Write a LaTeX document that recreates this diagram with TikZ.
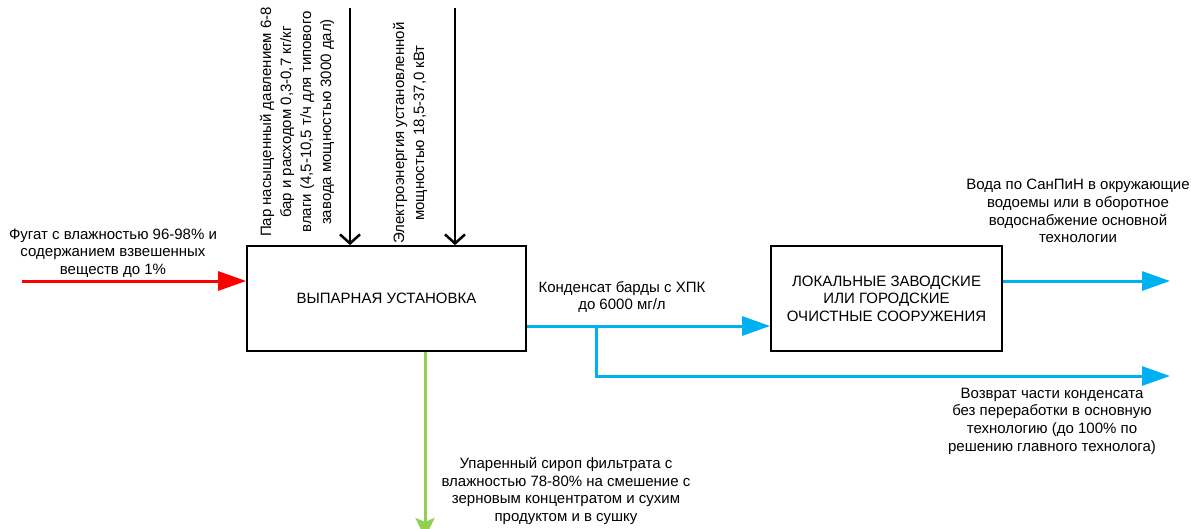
\documentclass[tikz,border=0pt]{standalone}
\usepackage{fontspec}
\setmainfont{Liberation Sans}
\usetikzlibrary{arrows.meta}
\definecolor{flowred}{RGB}{255,0,0}
\definecolor{flowblue}{RGB}{0,176,240}
\definecolor{flowgreen}{RGB}{146,208,80}
\tikzset{
  procbox/.style={draw=black, line width=1.8pt, fill=white, align=center,
    inner sep=0pt, font=\fontsize{15}{17.5}\selectfont},
  lbl/.style={align=center, inner sep=0pt, font=\fontsize{15}{17.7}\selectfont},
  vlbl/.style={align=center, inner sep=0pt, rotate=90, font=\fontsize{15}{20}\selectfont},
  feedline/.style={draw=flowred, line width=3pt, -{Triangle[length=28pt,width=19pt]}},
  waterline/.style={draw=flowblue, line width=3pt, -{Triangle[length=28pt,width=19pt]}},
  branchline/.style={draw=flowblue, line width=3pt},
  syrupline/.style={draw=flowgreen, line width=3pt, -{Stealth[length=20pt,width=19pt,inset=4pt]}},
  utilline/.style={draw=black, line width=2.5pt, -{Straight Barb[length=9pt,width=20pt,line width=2.5pt]}},
}
\begin{document}
\begin{tikzpicture}[x=1pt, y=-1pt]
\useasboundingbox (0,0) rectangle (1191,528);
\clip (0,0) rectangle (1191,528);

% process blocks
\node[procbox, minimum width=279pt, minimum height=105pt] (evap) at (386.5,298.5) {ВЫПАРНАЯ УСТАНОВКА};
\node[procbox, minimum width=231pt, minimum height=105pt] (treat) at (886.5,298.5)
  {ЛОКАЛЬНЫЕ ЗАВОДСКИЕ\\ИЛИ ГОРОДСКИЕ\\ОЧИСТНЫЕ СООРУЖЕНИЯ};

% free ends of the flows
\coordinate (feed) at (22,281);
\coordinate (steam) at (350,8);
\coordinate (power) at (455,8);
\coordinate (cond) at (0,326);
\coordinate (branch) at (596,326);
\coordinate (ret) at (1170,376);
\coordinate (water) at (1170,281);
\coordinate (syrup) at (425,538);

% flows
\draw[feedline] (feed) -- (evap.west |- feed);
\draw[utilline] (steam) -- (steam |- evap.north);
\draw[utilline] (power) -- (power |- evap.north);
\draw[waterline] (evap.east |- cond) -- (treat.west |- cond);
\draw[branchline, -{Triangle[length=28pt,width=19pt]}] (branch) |- (ret);
\draw[waterline] (treat.east |- water) -- (water);
\draw[syrupline] (evap.south -| syrup) -- (syrup);

% labels
\node[lbl] (feedlbl) at (113,253) {Фугат с влажностью 96-98\% и\\содержанием взвешенных\\веществ до 1\%};
\node[vlbl] (steamlbl) at (297,122) {Пар насыщенный давлением 6-8\\бар и расходом 0,3-0,7 кг/кг\\влаги (4,5-10,5 т/ч для типового\\завода мощностью 3000 дал)};
\node[vlbl] (powerlbl) at (410,133) {Электроэнергия установленной\\мощностью 18,5-37,0 кВт};
\node[lbl] (condlbl) at (622,297) {Конденсат барды с ХПК\\до 6000 мг/л};
\node[lbl] (waterlbl) at (1078,211) {Вода по СанПиН в окружающие\\водоемы или в оборотное\\водоснабжение основной\\технологии};
\node[lbl] (retlbl) at (1052,421) {Возврат части конденсата\\без переработки в основную\\технологию (до 100\% по\\решению главного технолога)};
\node[lbl] (syruplbl) at (566,491) {Упаренный сироп фильтрата с\\влажностью 78-80\% на смешение с\\зерновым концентратом и сухим\\продуктом и в сушку};
\end{tikzpicture}
\end{document}
